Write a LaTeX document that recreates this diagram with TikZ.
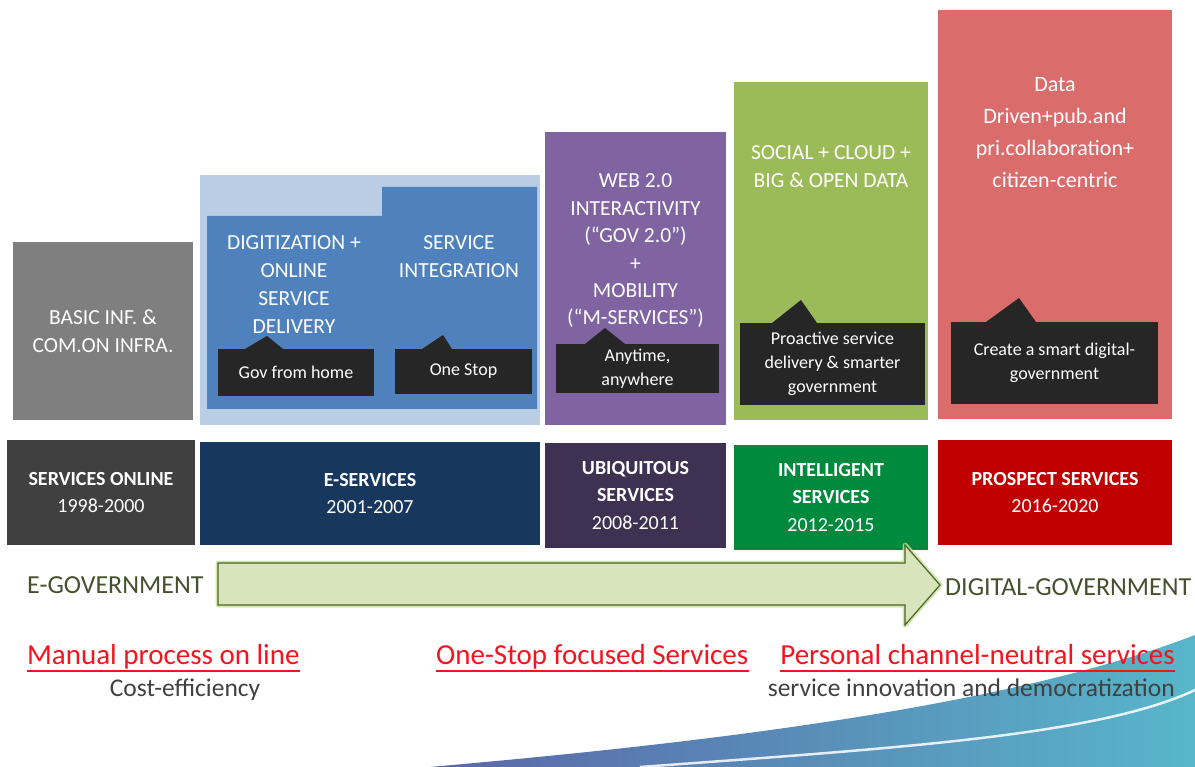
\documentclass[tikz,border=0pt]{standalone}
\usepackage{fontspec}
\setmainfont{Carlito}
\usetikzlibrary{calc}
\definecolor{cgray}{HTML}{7F7F7F}
\definecolor{clblue}{HTML}{B9CDE5}
\definecolor{cblue}{HTML}{4F81BD}
\definecolor{cpurple}{HTML}{8064A2}
\definecolor{cgreen}{HTML}{9BBB59}
\definecolor{cred}{HTML}{DA6C6C}
\definecolor{cblack}{HTML}{262626}
\definecolor{dgray}{HTML}{404040}
\definecolor{dnavy}{HTML}{17375E}
\definecolor{dpurple}{HTML}{3F3151}
\definecolor{dgreen}{HTML}{008A3E}
\definecolor{dred}{HTML}{C00000}
\definecolor{afill}{HTML}{D7E4BC}
\definecolor{aline}{HTML}{4F6228}
\definecolor{aglow}{HTML}{C6E59A}
\definecolor{gtext}{HTML}{46502F}
\definecolor{rtext}{HTML}{F5141E}
\definecolor{stext}{HTML}{404040}
\definecolor{swl}{HTML}{5A66A8}
\definecolor{swr}{HTML}{58B6CA}
\begin{document}
\begin{tikzpicture}[x=1pt,y=-1pt,
  panel/.style={inner sep=0pt,outer sep=0pt},
  toptext/.style={text=white,align=center,font=\fontsize{21.5}{28}\selectfont},
  callout/.style={fill=cblack,inner sep=0pt,text=white,align=center,font=\fontsize{18}{24}\selectfont},
  era/.style={inner sep=0pt,text=white,align=center,font=\bfseries\fontsize{20}{27.5}\selectfont},
  govtext/.style={inner sep=0pt,text=gtext,font=\fontsize{26}{30}\selectfont},
  redtext/.style={inner sep=0pt,text=rtext,font=\fontsize{29}{32}\selectfont},
  subtext/.style={inner sep=0pt,text=stext,font=\fontsize{25.5}{28}\selectfont}]
\useasboundingbox (0,0) rectangle (1195,767);
% swoosh
\shade[left color=swl,right color=swr] (430,767) .. controls (680,745) and (1000,710) .. (1195,635) -- (1195,767) -- cycle;
\draw[white,line width=2.5pt,opacity=0.85] (640,767) .. controls (900,748) and (1100,735) .. (1195,690);
% top panels
\node[panel,fill=cgray,minimum width=180,minimum height=178] (basic) at (103,331) {};
\node[toptext] (basict) at (103,331) {BASIC INF. \&\\COM.ON INFRA.};
\node[panel,fill=clblue,minimum width=340,minimum height=250] (eserv) at (370,300) {};
\fill[cblue] (207,409) -- (207,216) -- (382,216) -- (382,187) -- (537,187) -- (537,409) -- cycle;
\node[toptext] (digit) at (294,285) {DIGITIZATION +\\ONLINE\\SERVICE\\DELIVERY};
\node[toptext] (integ) at (459,257) {SERVICE\\INTEGRATION};
\node[panel,fill=cpurple,minimum width=181,minimum height=293] (ubiq) at (635.5,278.5) {};
\node[toptext,font=\fontsize{21.5}{27.4}\selectfont] (web) at (635.5,251) {WEB 2.0\\INTERACTIVITY\\(``GOV 2.0'')\\+\\MOBILITY\\(``M-SERVICES'')};
\node[panel,fill=cgreen,minimum width=194,minimum height=338] (intel) at (831,251) {};
\node[toptext] (social) at (831,167) {SOCIAL + CLOUD +\\BIG \& OPEN DATA};
\node[panel,fill=cred,minimum width=234,minimum height=409] (prosp) at (1055,214.5) {};
\node[toptext,font=\fontsize{22}{32}\selectfont] (data) at (1055,133) {Data\\Driven+pub.and\\pri.collaboration+\\citizen-centric};
% callouts
\node[callout,minimum width=156,minimum height=47] (gov) at (296,372.5) {Gov from home};
\fill[cblack] (245,349) -- (267,336) -- (283,349) -- cycle;
\node[callout,minimum width=137,minimum height=45] (one) at (463.5,371.5) {One Stop};
\fill[cblack] (422,349) -- (443,335) -- (452,349) -- cycle;
\node[callout,minimum width=163,minimum height=49] (any) at (637.5,368.5) {Anytime,\\anywhere};
\fill[cblack] (585,344) -- (605,328) -- (625,344) -- cycle;
\node[callout,minimum width=185,minimum height=82] (pro) at (832.5,364) {Proactive service\\delivery \& smarter\\government};
\fill[cblack] (772,323) -- (801,300) -- (817,323) -- cycle;
\node[callout,minimum width=207,minimum height=82] (cre) at (1054.5,363) {Create a smart digital-\\government};
\fill[cblack] (986,322) -- (1019,298) -- (1036,322) -- cycle;
% era row
\node[era,fill=dgray,minimum width=188,minimum height=105] (so) at (101,492.5) {SERVICES ONLINE\\\mdseries 1998-2000};
\node[era,fill=dnavy,minimum width=340,minimum height=103] (es) at (370,493.5) {E-SERVICES\\\mdseries 2001-2007};
\node[era,fill=dpurple,minimum width=181,minimum height=105] (ub) at (635.5,495.5) {UBIQUITOUS\\SERVICES\\\mdseries 2008-2011};
\node[era,fill=dgreen,minimum width=194,minimum height=105] (in) at (831,497.5) {INTELLIGENT\\SERVICES\\\mdseries 2012-2015};
\node[era,fill=dred,minimum width=234,minimum height=105] (pr) at (1055,492.5) {PROSPECT SERVICES\\\mdseries 2016-2020};
% arrow
\draw[aglow,line width=5pt,line join=round,opacity=0.8] (218,563) -- (905,563) -- (905,545) -- (940,585) -- (905,625) -- (905,605) -- (218,605) -- cycle;
\draw[aline,fill=afill,line width=1.2pt] (218,563) -- (905,563) -- (905,545) -- (940,585) -- (905,625) -- (905,605) -- (218,605) -- cycle;
\node[govtext,anchor=west] (egov) at (27,585) {E-GOVERNMENT};
\node[govtext,anchor=west] (dgov) at (945,587) {DIGITAL-GOVERNMENT};
% bottom texts
\node[redtext,anchor=base west] (manual) at (27,664) {Manual process on line};
\draw[rtext,line width=1.3pt] ($(manual.base west)+(0,7)$) -- ($(manual.base east)+(0,7)$);
\node[redtext,anchor=base west] (onestop) at (436,664) {One-Stop focused Services};
\draw[rtext,line width=1.3pt] ($(onestop.base west)+(0,7)$) -- ($(onestop.base east)+(0,7)$);
\node[redtext,anchor=base east] (personal) at (1175,664) {Personal channel-neutral services};
\draw[rtext,line width=1.3pt] ($(personal.base west)+(0,7)$) -- ($(personal.base east)+(0,7)$);
\node[subtext,anchor=base] (cost) at (185,696) {Cost-efficiency};
\node[subtext,anchor=base east] (innov) at (1175,696) {service innovation and democratization};
\end{tikzpicture}
\end{document}
